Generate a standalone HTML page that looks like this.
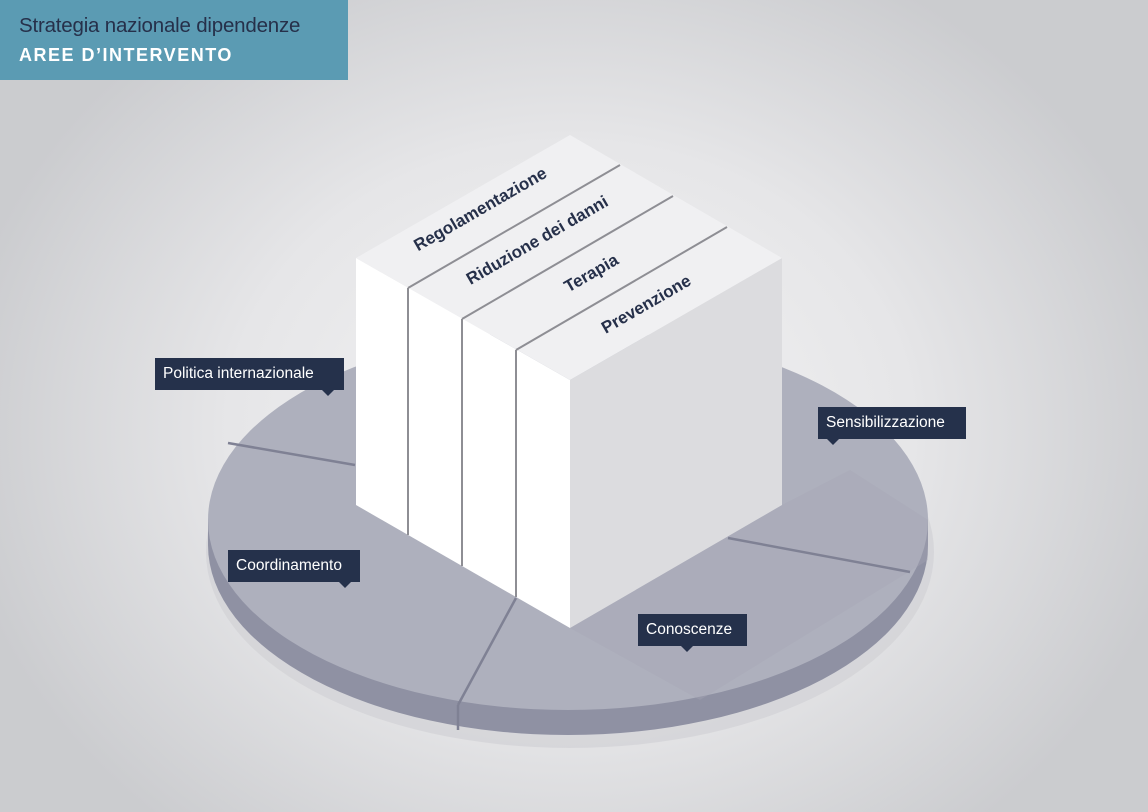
<!DOCTYPE html>
<html><head><meta charset="utf-8"><style>
html,body{margin:0;padding:0;}
body{width:1148px;height:812px;overflow:hidden;position:relative;font-family:"Liberation Sans",sans-serif;
background:radial-gradient(ellipse 620px 520px at 570px 430px,#f3f3f4 0%,#e6e6e8 55%,#cbcccf 100%);}
.hdr{position:absolute;left:0;top:0;width:348px;height:80px;background:#5b9bb3;}
.hdr .t1{position:absolute;left:19px;top:14px;font-size:20.5px;color:#26304a;letter-spacing:-0.2px;}
.hdr .t2{position:absolute;left:19px;top:45px;font-size:18px;color:#fff;font-weight:bold;letter-spacing:1.5px;}
.lab{position:absolute;background:#25314b;color:#fff;font-size:15.5px;height:32px;line-height:32px;padding:0 8px;box-sizing:border-box;white-space:nowrap;}
.ptr{position:absolute;bottom:-6px;width:0;height:0;border-left:6px solid transparent;border-right:6px solid transparent;border-top:6px solid #25314b;}
</style></head><body>
<svg width="1148" height="812" style="position:absolute;left:0;top:0">
<ellipse cx="570" cy="552" rx="364" ry="196" fill="#d2d2d5" opacity="0.7"/>
<ellipse cx="568" cy="545" rx="360" ry="190" fill="#8f91a3"/>
<rect x="208" y="520" width="720" height="25" fill="#8f91a3"/>
<ellipse cx="568" cy="520" rx="360" ry="190" fill="#aeb0bd"/>
<polygon points="782,505 570,628 700,700 928,560 928,520 850,470" fill="#a5a7b4" opacity="0.35"/>
<line x1="355" y1="465" x2="228" y2="443" stroke="#7f8194" stroke-width="2.5"/>
<line x1="728" y1="538" x2="910" y2="572" stroke="#7f8194" stroke-width="2.5"/>
<line x1="516" y1="598" x2="458" y2="705" stroke="#7f8194" stroke-width="2.5"/>
<line x1="458" y1="705" x2="458" y2="730" stroke="#7f8194" stroke-width="2.5"/>
<polygon points="356,258 570,380 570,628 356,505" fill="#ffffff"/>
<polygon points="570,380 782,258 782,505 570,628" fill="#dcdcdf"/>
<polygon points="570,135 782,258 570,380 356,258" fill="#f0f0f2"/>
<g stroke="#8e8e94" stroke-width="2">
<line x1="408" y1="288" x2="620" y2="165"/>
<line x1="462" y1="319" x2="673" y2="196"/>
<line x1="516" y1="350" x2="727" y2="227"/>
<line x1="408" y1="288" x2="408" y2="535"/>
<line x1="462" y1="319" x2="462" y2="566"/>
<line x1="516" y1="350" x2="516" y2="597"/>
</g>
<g font-family="Liberation Sans, sans-serif" font-size="17" font-weight="bold" fill="#26304a" text-anchor="middle">
<text x="483" y="214" transform="rotate(-30 483 214)">Regolamentazione</text>
<text x="540" y="245" transform="rotate(-30 540 245)">Riduzione dei danni</text>
<text x="594" y="278" transform="rotate(-30 594 278)">Terapia</text>
<text x="649" y="309" transform="rotate(-30 649 309)">Prevenzione</text>
</g>
</svg>
<div class="hdr"><div class="t1">Strategia nazionale dipendenze</div><div class="t2">AREE D’INTERVENTO</div></div>
<div class="lab" style="left:155px;top:358px;width:189px;">Politica internazionale<span class="ptr" style="left:167px"></span></div>
<div class="lab" style="left:818px;top:407px;width:148px;">Sensibilizzazione<span class="ptr" style="left:9px"></span></div>
<div class="lab" style="left:228px;top:550px;width:132px;">Coordinamento<span class="ptr" style="left:111px"></span></div>
<div class="lab" style="left:638px;top:614px;width:109px;">Conoscenze<span class="ptr" style="left:43px"></span></div>
</body></html>
